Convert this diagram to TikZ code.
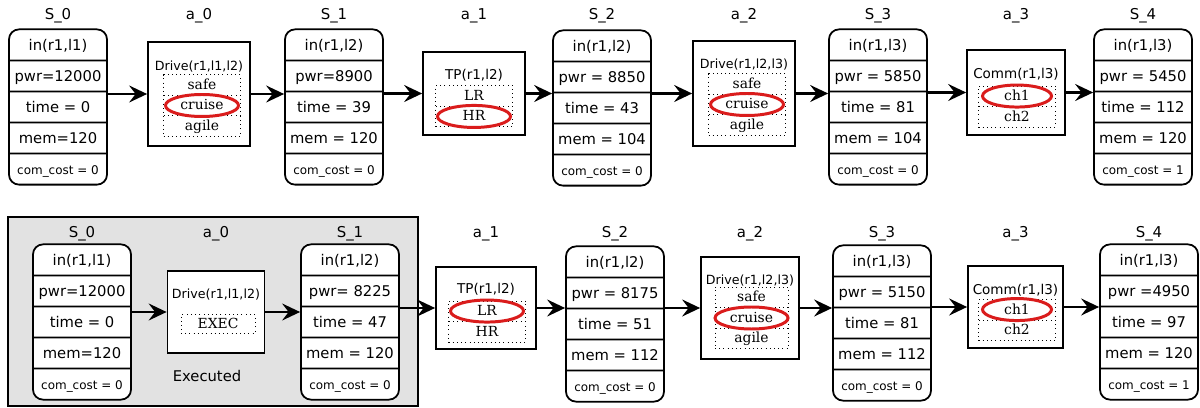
\documentclass[tikz,border=0pt]{standalone}
\usepackage{fontspec}
\setmainfont{DejaVu Sans}
\newfontfamily\optfont{DejaVu Serif}
\usepackage{tikz}
\usetikzlibrary{arrows.meta,fit,calc,shapes.geometric,shapes.multipart}
\definecolor{ink}{HTML}{000000}
\definecolor{pickred}{HTML}{DA1C1C}
\definecolor{donegray}{HTML}{E2E2E2}
\tikzset{
  >={Stealth[length=3.6mm,width=3.4mm,inset=1.3mm]},
  every node/.style={text=ink},
  statebox/.style={draw=ink,line width=1pt,rounded corners=2mm,fill=white,rectangle split,rectangle split parts=5,minimum width=19.6mm,inner xsep=1pt,inner ysep=0pt,font=\fontsize{8.4}{10}\selectfont},
  actbox/.style={draw=ink,line width=1pt,fill=white,minimum width=20.4mm,inner sep=0pt},
  acttitle/.style={inner sep=0pt,font=\fontsize{7.7}{9}\selectfont},
  drivetitle/.style={acttitle,font=\fontsize{7.2}{9}\selectfont},
  optlist/.style={draw=ink,dotted,rectangle split,minimum width=15.4mm,inner xsep=1pt,inner ysep=0pt,font=\optfont\fontsize{7.9}{9}\selectfont},
  pick/.style={draw=pickred,line width=1.7pt,ellipse,minimum width=14.6mm,minimum height=4.4mm,inner sep=0pt},
  tag/.style={font=\fontsize{8.5}{10}\selectfont,inner sep=1pt},
  arrow/.style={->,line width=1.2pt,draw=ink},
  donebox/.style={draw=ink,line width=1pt,fill=donegray,inner sep=0pt},
}
\newcommand{\srow}{\rule[-5.3pt]{0pt}{16.67pt}}
\newcommand{\orow}{\rule[-3.2pt]{0pt}{11.3pt}}
\newcommand{\cost}[1]{{\fontsize{6.8}{8}\selectfont com\_cost = #1}}

\begin{document}
\begin{tikzpicture}[x=0.2mm,y=-0.2mm]
\useasboundingbox (0,0) rectangle (1200,408);

% executed part of the plan
\node[donebox,fit={(8,217) (418,406)}] (done) {};

% states
\foreach \n/\x/\y/\loc/\pw/\tm/\me/\co in {
  s0/58/107/{in(r1,l1)}/{pwr=12000}/{time = 0}/{mem=120}/0,
  s1/334/107/{in(r1,l2)}/{pwr=8900}/{time = 39}/{mem = 120}/0,
  s2/602/108/{in(r1,l2)}/{pwr = 8850}/{time = 43}/{mem = 104}/0,
  s3/878/107/{in(r1,l3)}/{pwr = 5850}/{time = 81}/{mem = 104}/0,
  s4/1143/107/{in(r1,l3)}/{pwr = 5450}/{time = 112}/{mem = 120}/1,
  t0/82/322/{in(r1,l1)}/{pwr=12000}/{time = 0}/{mem=120}/0,
  t1/350/322/{in(r1,l2)}/{pwr= 8225}/{time = 47}/{mem = 120}/0,
  t2/615/324/{in(r1,l2)}/{pwr = 8175}/{time = 51}/{mem = 112}/0,
  t3/882/323/{in(r1,l3)}/{pwr = 5150}/{time = 81}/{mem = 112}/0,
  t4/1149/322/{in(r1,l3)}/{pwr =4950}/{time = 97}/{mem = 120}/1}{
  \node[statebox] (\n) at (\x,\y)
    {\srow\loc\nodepart{two}\srow\pw\nodepart{three}\srow\tm\nodepart{four}\srow\me\nodepart{five}\srow\cost{\co}};
}

% actions, top row
\node[actbox,minimum height=20.8mm] (a0) at (199,94) {};
\node[drivetitle] (a0-title) at (199,67) {Drive(r1,l1,l2)};
\node[optlist,rectangle split parts=3] (a0-opt) at (202,105.5) {\orow safe\nodepart{two}\orow cruise\nodepart{three}\orow agile};
\node[pick] (a0-pick) at (a0-opt.center) {};

\node[actbox,minimum height=16.6mm] (a1) at (474,93.5) {};
\node[acttitle] (a1-title) at (474,75) {TP(r1,l2)};
\node[optlist,rectangle split parts=2] (a1-opt) at (474,106) {\orow LR\nodepart{two}\orow HR};
\node[pick] (a1-pick) at ($(a1-opt.one split)!0.5!(a1-opt.south)$) {};

\node[actbox,minimum height=21mm] (a2) at (744,93.5) {};
\node[drivetitle] (a2-title) at (744,65) {Drive(r1,l2,l3)};
\node[optlist,rectangle split parts=3] (a2-opt) at (747,104.5) {\orow safe\nodepart{two}\orow cruise\nodepart{three}\orow agile};
\node[pick] (a2-pick) at (a2-opt.center) {};

\node[actbox,minimum width=19.6mm,minimum height=17mm] (a3) at (1016,92.5) {};
\node[acttitle] (a3-title) at (1016,74) {Comm(r1,l3)};
\node[optlist,rectangle split parts=2] (a3-opt) at (1017,106.5) {\orow ch1\nodepart{two}\orow ch2};
\node[pick,minimum width=13.8mm] (a3-pick) at ($(a3-opt.north)!0.5!(a3-opt.one split)$) {};

% actions, bottom row
\node[actbox,minimum width=19.4mm,minimum height=16.4mm] (b0) at (216,312) {};
\node[drivetitle] (b0-title) at (216,295) {Drive(r1,l1,l2)};
\node[optlist,rectangle split parts=1,minimum width=14.8mm] (b0-opt) at (218,324) {\rule[-2.6pt]{0pt}{10.2pt}EXEC};
\node[font=\fontsize{8.4}{10}\selectfont] (b0-note) at (207,376) {Executed};

\node[actbox,minimum width=20mm,minimum height=16.4mm] (b1) at (486,308) {};
\node[acttitle] (b1-title) at (486,289) {TP(r1,l2)};
\node[optlist,rectangle split parts=2] (b1-opt) at (487,321.5) {\orow LR\nodepart{two}\orow HR};
\node[pick] (b1-pick) at ($(b1-opt.north)!0.5!(b1-opt.one split)$) {};

\node[actbox,minimum width=19.6mm,minimum height=20.4mm] (b2) at (750,308) {};
\node[drivetitle] (b2-title) at (750,281) {Drive(r1,l2,l3)};
\node[optlist,rectangle split parts=3,minimum width=14.6mm] (b2-opt) at (751.5,318) {\orow safe\nodepart{two}\orow cruise\nodepart{three}\orow agile};
\node[pick] (b2-pick) at (b2-opt.center) {};

\node[actbox,minimum width=19mm,minimum height=16.4mm] (b3) at (1015.5,307) {};
\node[acttitle] (b3-title) at (1015.5,290) {Comm(r1,l3)};
\node[optlist,rectangle split parts=2] (b3-opt) at (1017,320) {\orow ch1\nodepart{two}\orow ch2};
\node[pick,minimum width=13.8mm] (b3-pick) at ($(b3-opt.north)!0.5!(b3-opt.one split)$) {};

% labels
\foreach \n/\t in {s0/S\_0,a0/a\_0,s1/S\_1,a1/a\_1,s2/S\_2,a2/a\_2,s3/S\_3,a3/a\_3,s4/S\_4}
  \node[tag] (\n-tag) at (\n |- 0,16) {\t};
\foreach \n/\t in {t0/S\_0,b0/a\_0,t1/S\_1,b1/a\_1,t2/S\_2,b2/a\_2,t3/S\_3,b3/a\_3,t4/S\_4}
  \node[tag] (\n-tag) at (\n |- 0,234) {\t};

% transitions
\foreach \i/\j in {0/1,1/2,2/3,3/4}{
  \draw[arrow] (s\i.east |- a\i.west) -- (a\i.west);
  \draw[arrow] (a\i.east) -- (a\i.east -| s\j.west);
  \draw[arrow] (t\i.east |- b\i.west) -- (b\i.west);
  \draw[arrow] (b\i.east) -- (b\i.east -| t\j.west);
}

\end{tikzpicture}
\end{document}
